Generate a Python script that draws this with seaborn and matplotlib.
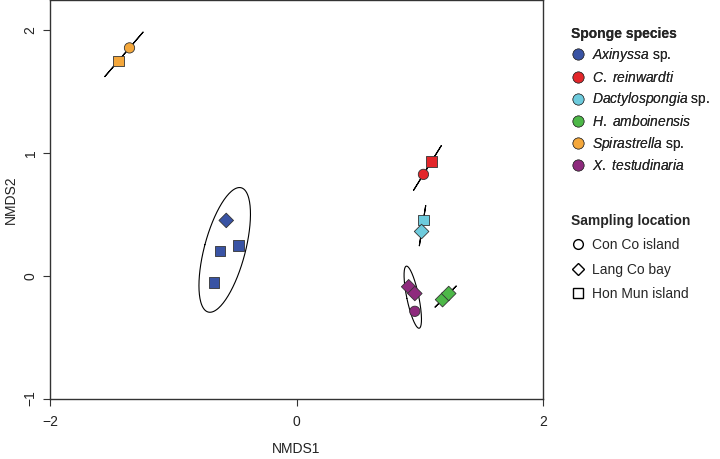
import numpy as np
import pandas as pd
import seaborn as sns
import matplotlib.pyplot as plt
from matplotlib.lines import Line2D

sns.set_style("white")
plt.rcParams['font.family'] = ['Liberation Sans', 'DejaVu Sans']
plt.rcParams['mathtext.fontset'] = 'custom'
plt.rcParams['mathtext.it'] = 'Liberation Sans:italic'
plt.rcParams['mathtext.rm'] = 'Liberation Sans'

# NMDS scores
species = ["Axinyssa", "Axinyssa", "Axinyssa", "Axinyssa",
           "C. reinwardti", "C. reinwardti",
           "Dactylospongia", "Dactylospongia",
           "H. amboinensis", "H. amboinensis",
           "Spirastrella", "Spirastrella",
           "X. testudinaria", "X. testudinaria", "X. testudinaria"]
location = ["Lang Co bay", "Hon Mun island", "Hon Mun island", "Hon Mun island",
            "Con Co island", "Hon Mun island",
            "Hon Mun island", "Lang Co bay",
            "Lang Co bay", "Lang Co bay",
            "Con Co island", "Hon Mun island",
            "Lang Co bay", "Lang Co bay", "Con Co island"]
nmds1 = [-0.57, -0.62, -0.47, -0.67,
         1.03, 1.095,
         1.03, 1.015,
         1.185, 1.235,
         -1.355, -1.445,
         0.91, 0.96, 0.96]
nmds2 = [0.45, 0.20, 0.245, -0.055,
         0.825, 0.93,
         0.455, 0.36,
         -0.195, -0.145,
         1.855, 1.75,
         -0.09, -0.145, -0.29]

species_order = ["Axinyssa", "C. reinwardti", "Dactylospongia",
                 "H. amboinensis", "Spirastrella", "X. testudinaria"]
species_labels = [r"$\it{Axinyssa}$ sp.", r"$\it{C.\ reinwardti}$",
                  r"$\it{Dactylospongia}$ sp.", r"$\it{H.\ amboinensis}$",
                  r"$\it{Spirastrella}$ sp.", r"$\it{X.\ testudinaria}$"]
colors = ["#3953a4", "#e3262a", "#6dcbdd", "#4db848", "#f4a73b", "#8e2a7d"]
loc_order = ["Con Co island", "Lang Co bay", "Hon Mun island"]
loc_markers = ["o", "D", "s"]

df = pd.DataFrame({"NMDS1": nmds1, "NMDS2": nmds2,
                   "species": species, "location": location})

fig = plt.figure(figsize=(7.2, 4.59), dpi=100)
ax = fig.add_axes([50/720, 1 - 398.5/459, 493/720, 398.5/459])

# sd ellipses (95%) per species, like ordiellipse
scale = np.sqrt(5.991)
t = np.linspace(0, 2*np.pi, 200)
for sp in species_order:
    pts = df.loc[df.species == sp, ["NMDS1", "NMDS2"]].values
    c = pts.mean(axis=0)
    cov = np.cov(pts.T)
    vals, vecs = np.linalg.eigh(cov)
    vals = np.clip(vals, 0, None)
    circ = np.vstack([np.cos(t), np.sin(t)])
    ell = vecs @ (np.sqrt(vals)[:, None] * circ) * scale
    ax.plot(ell[0] + c[0], ell[1] + c[1], color="black", lw=0.8, zorder=1)

sns.scatterplot(data=df, x="NMDS1", y="NMDS2", hue="species", style="location",
                hue_order=species_order, palette=colors,
                style_order=loc_order, markers=dict(zip(loc_order, loc_markers)),
                s=55, edgecolor="#333333", linewidth=0.6, legend=False, ax=ax, zorder=3)

ax.set_xlim(-2, 2)
ax.set_ylim(-1, 2.245)
ax.set_xticks([-2, 0, 2])
ax.set_yticks([-1, 0, 1, 2])
ax.set_xticklabels(["\u22122", "0", "2"])
ax.set_yticklabels(["\u22121", "0", "1", "2"], rotation=90, va="center")
ax.tick_params(direction="out", length=5, width=0.8, colors="#333333",
               labelsize=10, labelcolor="#222222", bottom=True, left=True)
ax.tick_params(axis="x", pad=7)
ax.tick_params(axis="y", pad=4)
for s in ax.spines.values():
    s.set_color("#333333")
    s.set_linewidth(1.0)
ax.set_xlabel("NMDS1", fontsize=10, labelpad=9, color="#222222")
ax.set_ylabel("NMDS2", fontsize=10, labelpad=4, color="#222222")

h1 = [Line2D([], [], marker="o", ls="", markerfacecolor=c, markeredgecolor="#333333",
             markeredgewidth=0.5, markersize=8) for c in colors]
leg1 = fig.legend(h1, species_labels, title="Sponge species", loc="upper left",
                  bbox_to_anchor=(568/720, 1 - 24/459), frameon=False, fontsize=10,
                  alignment="left", title_fontproperties={"weight": "bold", "size": 10},
                  handletextpad=0.5, labelspacing=0.40, handlelength=1.0,
                  borderpad=0.2, borderaxespad=0)
h2 = [Line2D([], [], marker=m, ls="", markerfacecolor="white", markeredgecolor="black",
             markeredgewidth=1.0, markersize=7 if m != "D" else 6) for m in loc_markers]
leg2 = fig.legend(h2, loc_order, title="Sampling location", loc="upper left",
                  bbox_to_anchor=(568/720, 1 - 211/459), frameon=False, fontsize=10,
                  alignment="left", title_fontproperties={"weight": "bold", "size": 10},
                  handletextpad=0.5, labelspacing=0.75, handlelength=1.0,
                  borderpad=0.2, borderaxespad=0)
fig.add_artist(leg1)

fig.savefig("out.png", dpi=100)
